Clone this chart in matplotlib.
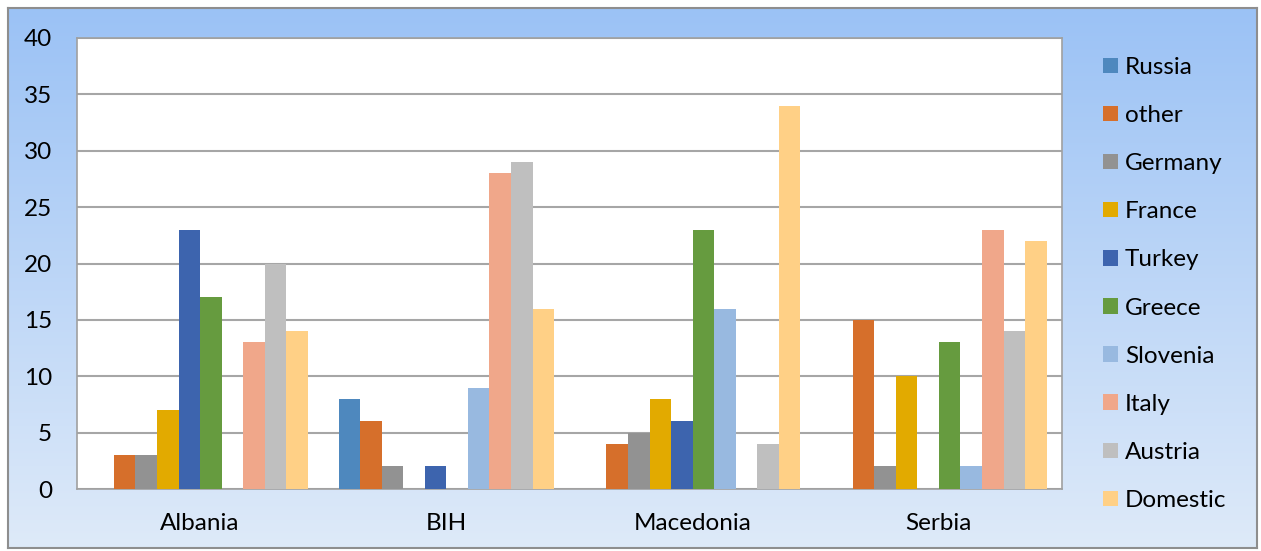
import numpy as np
import matplotlib.pyplot as plt

# countries on the x axis and the origin series
countries = ['Albania', 'BIH', 'Macedonia', 'Serbia']
series = ['Russia', 'other', 'Germany', 'France', 'Turkey',
          'Greece', 'Slovenia', 'Italy', 'Austria', 'Domestic']
colors = ['#4E88BE', '#D66F2B', '#929292', '#E2AA00', '#3D64AE',
          '#669B3F', '#98B9E0', '#F0A78A', '#BFBFBF', '#FFD086']

# values per series, in country order
russia = [0, 8, 0, 0]
other = [3, 6, 4, 15]
germany = [3, 2, 5, 2]
france = [7, 0, 8, 10]
turkey = [23, 2, 6, 0]
greece = [17, 0, 23, 13]
slovenia = [0, 9, 16, 2]
italy = [13, 28, 0, 23]
austria = [20, 29, 4, 14]
domestic = [14, 16, 34, 22]
values = [russia, other, germany, france, turkey,
          greece, slovenia, italy, austria, domestic]

FS = 17.5

fig = plt.figure(figsize=(12.61, 5.51), dpi=100)
fig.patch.set_facecolor('white')
plt.rcParams['font.family'] = ['Lato', 'DejaVu Sans']

# blue gradient chart area with a grey frame
bg = fig.add_axes([8 / 1261, 3 / 551, 1249 / 1261, 540 / 551], zorder=-5)
top = np.array([0x9B, 0xC2, 0xF5]) / 255
bottom = np.array([0xDE, 0xEA, 0xF9]) / 255
t = np.linspace(0, 1, 256)[:, None]
grad = top + (bottom - top) * t
bg.imshow(grad[:, None, :].repeat(2, axis=1), aspect='auto',
          extent=[0, 1, 0, 1])
bg.set_xlim(0, 1)
bg.set_ylim(0, 1)
bg.set_xticks([])
bg.set_yticks([])
for s in bg.spines.values():
    s.set_color('#8E8E8E')
    s.set_linewidth(1.5)

ax = fig.add_axes([77 / 1261, 62 / 551, 985 / 1261, 451 / 551])
ax.set_facecolor('white')

n = len(series)
width = 0.875 / n
x = np.arange(len(countries))
for i, (name, vals) in enumerate(zip(series, values)):
    offset = (i - (n - 1) / 2) * width
    ax.bar(x + offset, vals, width, color=colors[i], label=name, zorder=3)

ax.set_xlim(-0.5, len(countries) - 0.5)
ax.set_ylim(0, 40)
ax.set_yticks(range(0, 41, 5))
ax.set_xticks(x)
ax.set_xticklabels(countries)
ax.tick_params(axis='both', length=0, labelsize=FS, labelcolor='black')
ax.tick_params(axis='y', pad=18)
ax.tick_params(axis='x', pad=17.5)
ax.yaxis.grid(True, color='#A6A6A6', linewidth=1.5, zorder=0)
for s in ax.spines.values():
    s.set_color('#A0A0A0')
    s.set_linewidth(1.2)

ax.legend(loc='upper left', bbox_to_anchor=(1103 / 1261, 1 - 57 / 551),
          bbox_transform=fig.transFigure, frameon=False, fontsize=FS,
          handlelength=0.6, handleheight=0.6, handletextpad=0.3,
          labelspacing=1.115, borderaxespad=0, borderpad=0)

fig.savefig('out.png', dpi=100)
